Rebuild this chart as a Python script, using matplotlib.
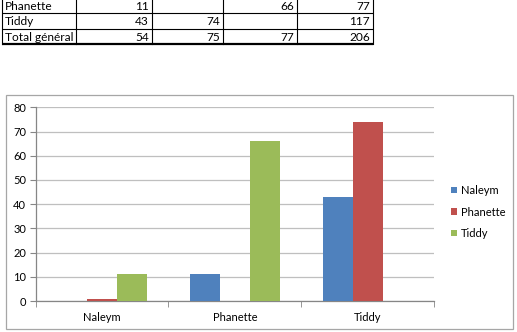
import numpy as np
import matplotlib
matplotlib.use("Agg")
import matplotlib.pyplot as plt
from matplotlib.patches import Rectangle

plt.rcParams['font.family'] = ['Lato', 'DejaVu Sans']

# données du tableau croisé
categories = ["Naleym", "Phanette", "Tiddy"]
series = ["Naleym", "Phanette", "Tiddy"]
naleym_vals = [0, 11, 43]
phanette_vals = [1, 0, 74]
tiddy_vals = [11, 66, 0]
colors = ["#4F81BD", "#C0504D", "#9BBB59"]

# lignes visibles du tableau
table_rows = ["Phanette", "Tiddy", "Total général"]
table_cells = [["11", "", "66", "77"],
               ["43", "74", "", "117"],
               ["54", "75", "77", "206"]]

W, H = 517, 332
fig = plt.figure(figsize=(W / 100, H / 100), dpi=100)

# calque en pixels pour le tableau et le cadre du graphique
bg = fig.add_axes([0, 0, 1, 1])
bg.set_xlim(0, W)
bg.set_ylim(H, 0)
bg.axis("off")

col_x = [2, 76, 152, 223, 297, 373]
row_y = [-3, 13, 28.5, 44]
for i, yy in enumerate(row_y[1:]):
    bg.plot([col_x[0], col_x[-1]], [yy, yy], color="black",
            lw=1.6 if i == 2 else 0.8, solid_capstyle="butt")
for xx in col_x:
    bg.plot([xx, xx], [row_y[0], row_y[-1]], color="black", lw=0.8)
for r, (lab, cells) in enumerate(zip(table_rows, table_cells)):
    yc = (row_y[r] + row_y[r + 1]) / 2 + 1
    bg.text(col_x[0] + 3, yc, lab, ha="left", va="center", fontsize=8.6)
    for c, val in enumerate(cells):
        bg.text(col_x[c + 2] - 3, yc, val, ha="right", va="center", fontsize=8.6)

bg.add_patch(Rectangle((6, 95), 507, 234, fill=False, ec="#A6A6A6", lw=0.9))

# graphique en barres
ax = fig.add_axes([35.7 / W, 1 - 301 / H, (434 - 35.7) / W, (301 - 107.3) / H])
x = np.arange(len(categories))
bw = 0.2256
for i, (name, vals) in enumerate(zip(series, [naleym_vals, phanette_vals, tiddy_vals])):
    ax.bar(x + (i - 1) * bw, vals, width=bw, color=colors[i], label=name, zorder=3)

ax.set_xlim(-0.5, 2.5)
ax.set_ylim(0, 80)
ax.set_yticks(np.arange(0, 81, 10))
ax.yaxis.grid(True, color="#BFBFBF", lw=0.9, zorder=0)
ax.set_xticks(x)
ax.set_xticklabels(categories, fontsize=8)
ax.set_xticks([-0.5, 0.5, 1.5, 2.5], minor=True)
ax.tick_params(axis="x", which="major", length=0, pad=8)
ax.tick_params(axis="x", which="minor", length=4, color="#868686")
ax.tick_params(axis="y", length=4, color="#868686", labelsize=8, pad=3)
for s in ["top", "right"]:
    ax.spines[s].set_visible(False)
for s in ["left", "bottom"]:
    ax.spines[s].set_color("#868686")
    ax.spines[s].set_linewidth(0.9)

ax.legend(loc="center left", bbox_to_anchor=(451 / W, 1 - 212 / H),
          bbox_transform=fig.transFigure, frameon=False, fontsize=8,
          handlelength=0.55, handleheight=0.55, handletextpad=0.35,
          labelspacing=0.95, borderaxespad=0, borderpad=0)

fig.savefig("out.png", dpi=100)
